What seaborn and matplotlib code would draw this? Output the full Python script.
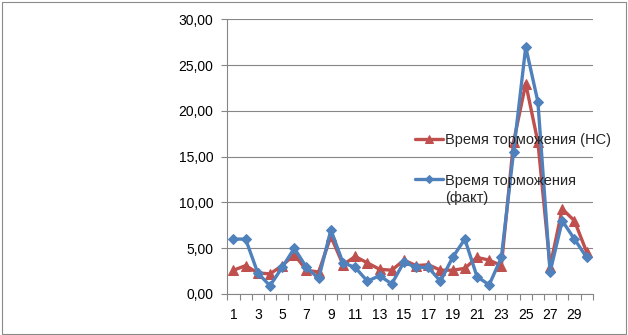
import matplotlib
matplotlib.use("Agg")
import matplotlib.pyplot as plt
from matplotlib.patches import Rectangle
from matplotlib.ticker import FixedLocator, FuncFormatter
import pandas as pd
import seaborn as sns

# Braking time per test run
runs = list(range(1, 31))
time_ns = [2.6, 3.1, 2.3, 2.2, 3.1, 4.3, 2.6, 2.4, 6.3, 3.2,
           4.1, 3.4, 2.7, 2.6, 3.7, 3.1, 3.2, 2.6, 2.6, 2.8,
           4.0, 3.7, 3.1, 16.6, 23.0, 16.6, 3.0, 9.3, 8.0, 4.6]
time_fact = [6.0, 6.0, 2.3, 0.9, 2.9, 5.0, 2.9, 1.7, 7.0, 3.4,
             2.9, 1.4, 2.0, 1.1, 3.5, 2.9, 2.9, 1.4, 4.0, 6.0,
             1.9, 1.0, 4.0, 15.5, 27.0, 21.0, 2.4, 8.0, 6.0, 4.0]
y_ticks = [0, 5, 10, 15, 20, 25, 30]
x_labels = list(range(1, 30, 2))

label_ns = "Время торможения (НС)"
label_fact = "Время торможения"
label_fact_2 = "(факт)"

df = pd.DataFrame({"run": runs, "ns": time_ns, "fact": time_fact})

sns.set_theme(style="white")
plt.rcParams["font.family"] = ["Liberation Sans", "DejaVu Sans"]
plt.rcParams["font.size"] = 10

W, H = 628, 335
fig = plt.figure(figsize=(W / 100, H / 100), dpi=100)
ax = fig.add_axes([0.362, 0.1224, 0.5818, 0.8194])

red = "#C0504D"
blue = "#4F81BD"
grid_c = "#868686"

sns.lineplot(data=df, x="run", y="ns", ax=ax, color=red, lw=2.4,
             marker="^", markersize=7.5, markeredgecolor=red,
             label=label_ns, zorder=3)
sns.lineplot(data=df, x="run", y="fact", ax=ax, color=blue, lw=2.4,
             marker="D", markersize=5.5, markeredgecolor=blue,
             label=label_fact, zorder=4)

ax.set_xlim(0.5, 30.5)
ax.set_ylim(0, 30)
ax.set_xlabel("")
ax.set_ylabel("")

ax.yaxis.set_major_locator(FixedLocator(y_ticks))
ax.yaxis.set_major_formatter(FuncFormatter(lambda v, p: f"{v:.2f}".replace(".", ",")))
ax.xaxis.set_major_locator(FixedLocator(x_labels))
ax.xaxis.set_major_formatter(FuncFormatter(lambda v, p: f"{int(v)}"))
ax.xaxis.set_minor_locator(FixedLocator([r + 0.5 for r in range(0, 31)]))

ax.grid(axis="y", color=grid_c, lw=0.8, zorder=0)
ax.grid(axis="x", visible=False)
for s in ["top", "right"]:
    ax.spines[s].set_visible(False)
for s in ["left", "bottom"]:
    ax.spines[s].set_color(grid_c)
    ax.spines[s].set_linewidth(0.8)

ax.tick_params(axis="y", which="major", left=True, length=4, width=0.8,
               color=grid_c, pad=6, labelsize=10, labelcolor="#000000")
ax.tick_params(axis="x", which="major", bottom=False, length=0, pad=10,
               labelsize=10, labelcolor="#000000")
ax.tick_params(axis="x", which="minor", bottom=True, length=4, width=0.8,
               color=grid_c)

leg = ax.legend(loc="upper left", bbox_to_anchor=(415 / W, 1 - 133 / H),
                bbox_transform=fig.transFigure, frameon=False,
                borderpad=0, borderaxespad=0, handlelength=1.95,
                handletextpad=0.12, labelspacing=1.82, fontsize=10.5,
                markerscale=0.8)
leg.set_zorder(5)

# second line of the "fact" legend label, under its first line
fig.canvas.draw()
bb = leg.get_texts()[1].get_window_extent()
fig.text(bb.x0 / W, (bb.y0 + bb.y1) / 2 / H - 17 / H, label_fact_2,
         ha="left", va="center", fontsize=10.5, zorder=6)

fig.patches.append(Rectangle((1.5 / W, 1.5 / H), (W - 4) / W, (H - 3.5) / H,
                             transform=fig.transFigure, fill=False,
                             edgecolor="#8a8a8a", lw=0.8))

fig.savefig("out.png", dpi=100)
